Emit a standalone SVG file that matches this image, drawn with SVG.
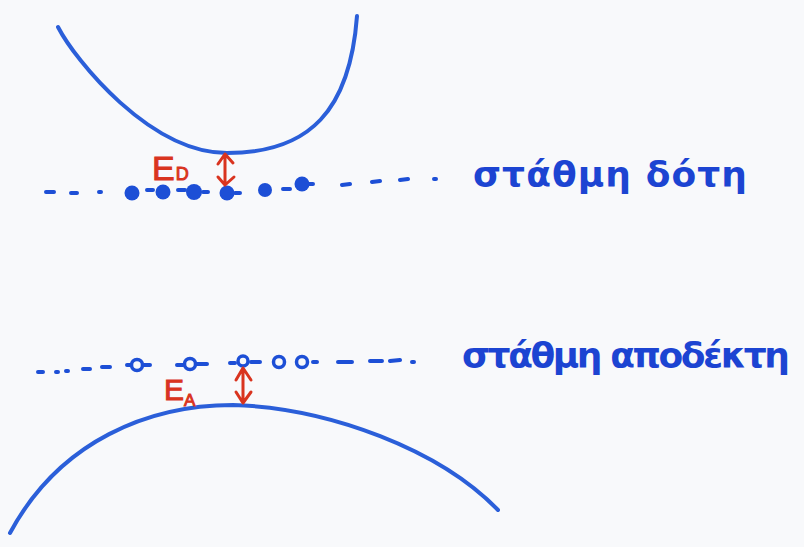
<svg xmlns="http://www.w3.org/2000/svg" width="804" height="547" viewBox="0 0 804 547">
<defs>
<style>
.band{fill:none;stroke:#2b5fd9;stroke-width:4;stroke-linecap:round}
.dash{fill:none;stroke:#1d4fd6;stroke-width:4;stroke-linecap:round}
.dot{fill:#1d4fd6}
.hole{fill:none;stroke:#1d4fd6;stroke-width:3.5}
.red{fill:none;stroke:#d9341f;stroke-width:3;stroke-linecap:round;stroke-linejoin:round}
.lbl{font-family:"DejaVu Sans","Noto Sans",sans-serif;fill:#1c44d2;font-size:36px;font-weight:bold}
.e{font-family:"Liberation Sans",sans-serif;fill:#d9341f;stroke:#d9341f;stroke-width:1}
</style>
</defs>
<rect width="804" height="547" fill="#f8f9fb"/>
<g id="conduction-band">
<path class="band" d="M58,27 C75,60 150,153 227,153 C310,153 350,110 357,16"/>
</g>
<g id="valence-band">
<path class="band" d="M10,533 C60,440 150,405 233,405 C330,408 440,450 498,510"/>
</g>
<g id="donor-level">
<path class="dash" d="M46,192 L54,192 M71,193 L77,193 M99,192 L101,192 M147,190 L153,190 M178,190 L185,190 M203,192 L208,192 M235,193 L240,193 M283,189 L290,189 M307,184 L313,184 M342,185 L350,184 M372,182 L380,181 M400,180 L408,179 M434,179 L436,179"/>
<circle class="dot" cx="132" cy="193" r="7.5"/>
<circle class="dot" cx="163" cy="192" r="7.5"/>
<circle class="dot" cx="194" cy="192" r="8"/>
<circle class="dot" cx="227" cy="193" r="7.5"/>
<circle class="dot" cx="265" cy="190" r="7"/>
<circle class="dot" cx="302" cy="184" r="7.5"/>
</g>
<g id="acceptor-level">
<path class="dash" d="M38,372 L43,372 M56,372 L58,372 M66,371 L68,371 M83,369 L90,369 M102,367 L110,367 M127,365 L131,365 M144,365 L150,365 M177,365 L183,365 M197,364 L207,364 M230,363 L235,363 M251,362 L260,362 M313,362 L317,362 M338,362 L352,362 M370,361 L382,361 M390,361 L400,360 M412,362 L414,362"/>
<circle class="hole" cx="137" cy="365" r="5.5"/>
<circle class="hole" cx="190" cy="364" r="5.5"/>
<circle class="hole" cx="243" cy="361" r="5" fill="#1d4fd6" fill-opacity="0.6"/>
<circle class="hole" cx="279" cy="362" r="5.5"/>
<circle class="hole" cx="302" cy="362" r="5.5"/>
</g>
<g id="donor-label">
<text class="lbl" x="473" y="187" textLength="274" lengthAdjust="spacing">στάθμη δότη</text>
</g>
<g id="acceptor-label">
<text class="lbl" x="462" y="368" textLength="328" lengthAdjust="spacing">στάθμη αποδέκτη</text>
</g>
<g id="ED-label">
<text class="e" x="152" y="180" font-size="34">E<tspan font-size="18" dx="1">D</tspan></text>
</g>
<g id="EA-label">
<text class="e" x="164" y="400" font-size="30">E<tspan font-size="17" dy="6">A</tspan></text>
</g>
<g id="connectors">
<path class="red" d="M225,155 L225,184 M218,164 L225,154 L233,163 M218,177 L225,185 L234,177"/>
<path class="red" d="M243,368 L243,402 M236,380 L243,368 L251,380 M236,392 L243,403 L251,392"/>
</g>
</svg>
